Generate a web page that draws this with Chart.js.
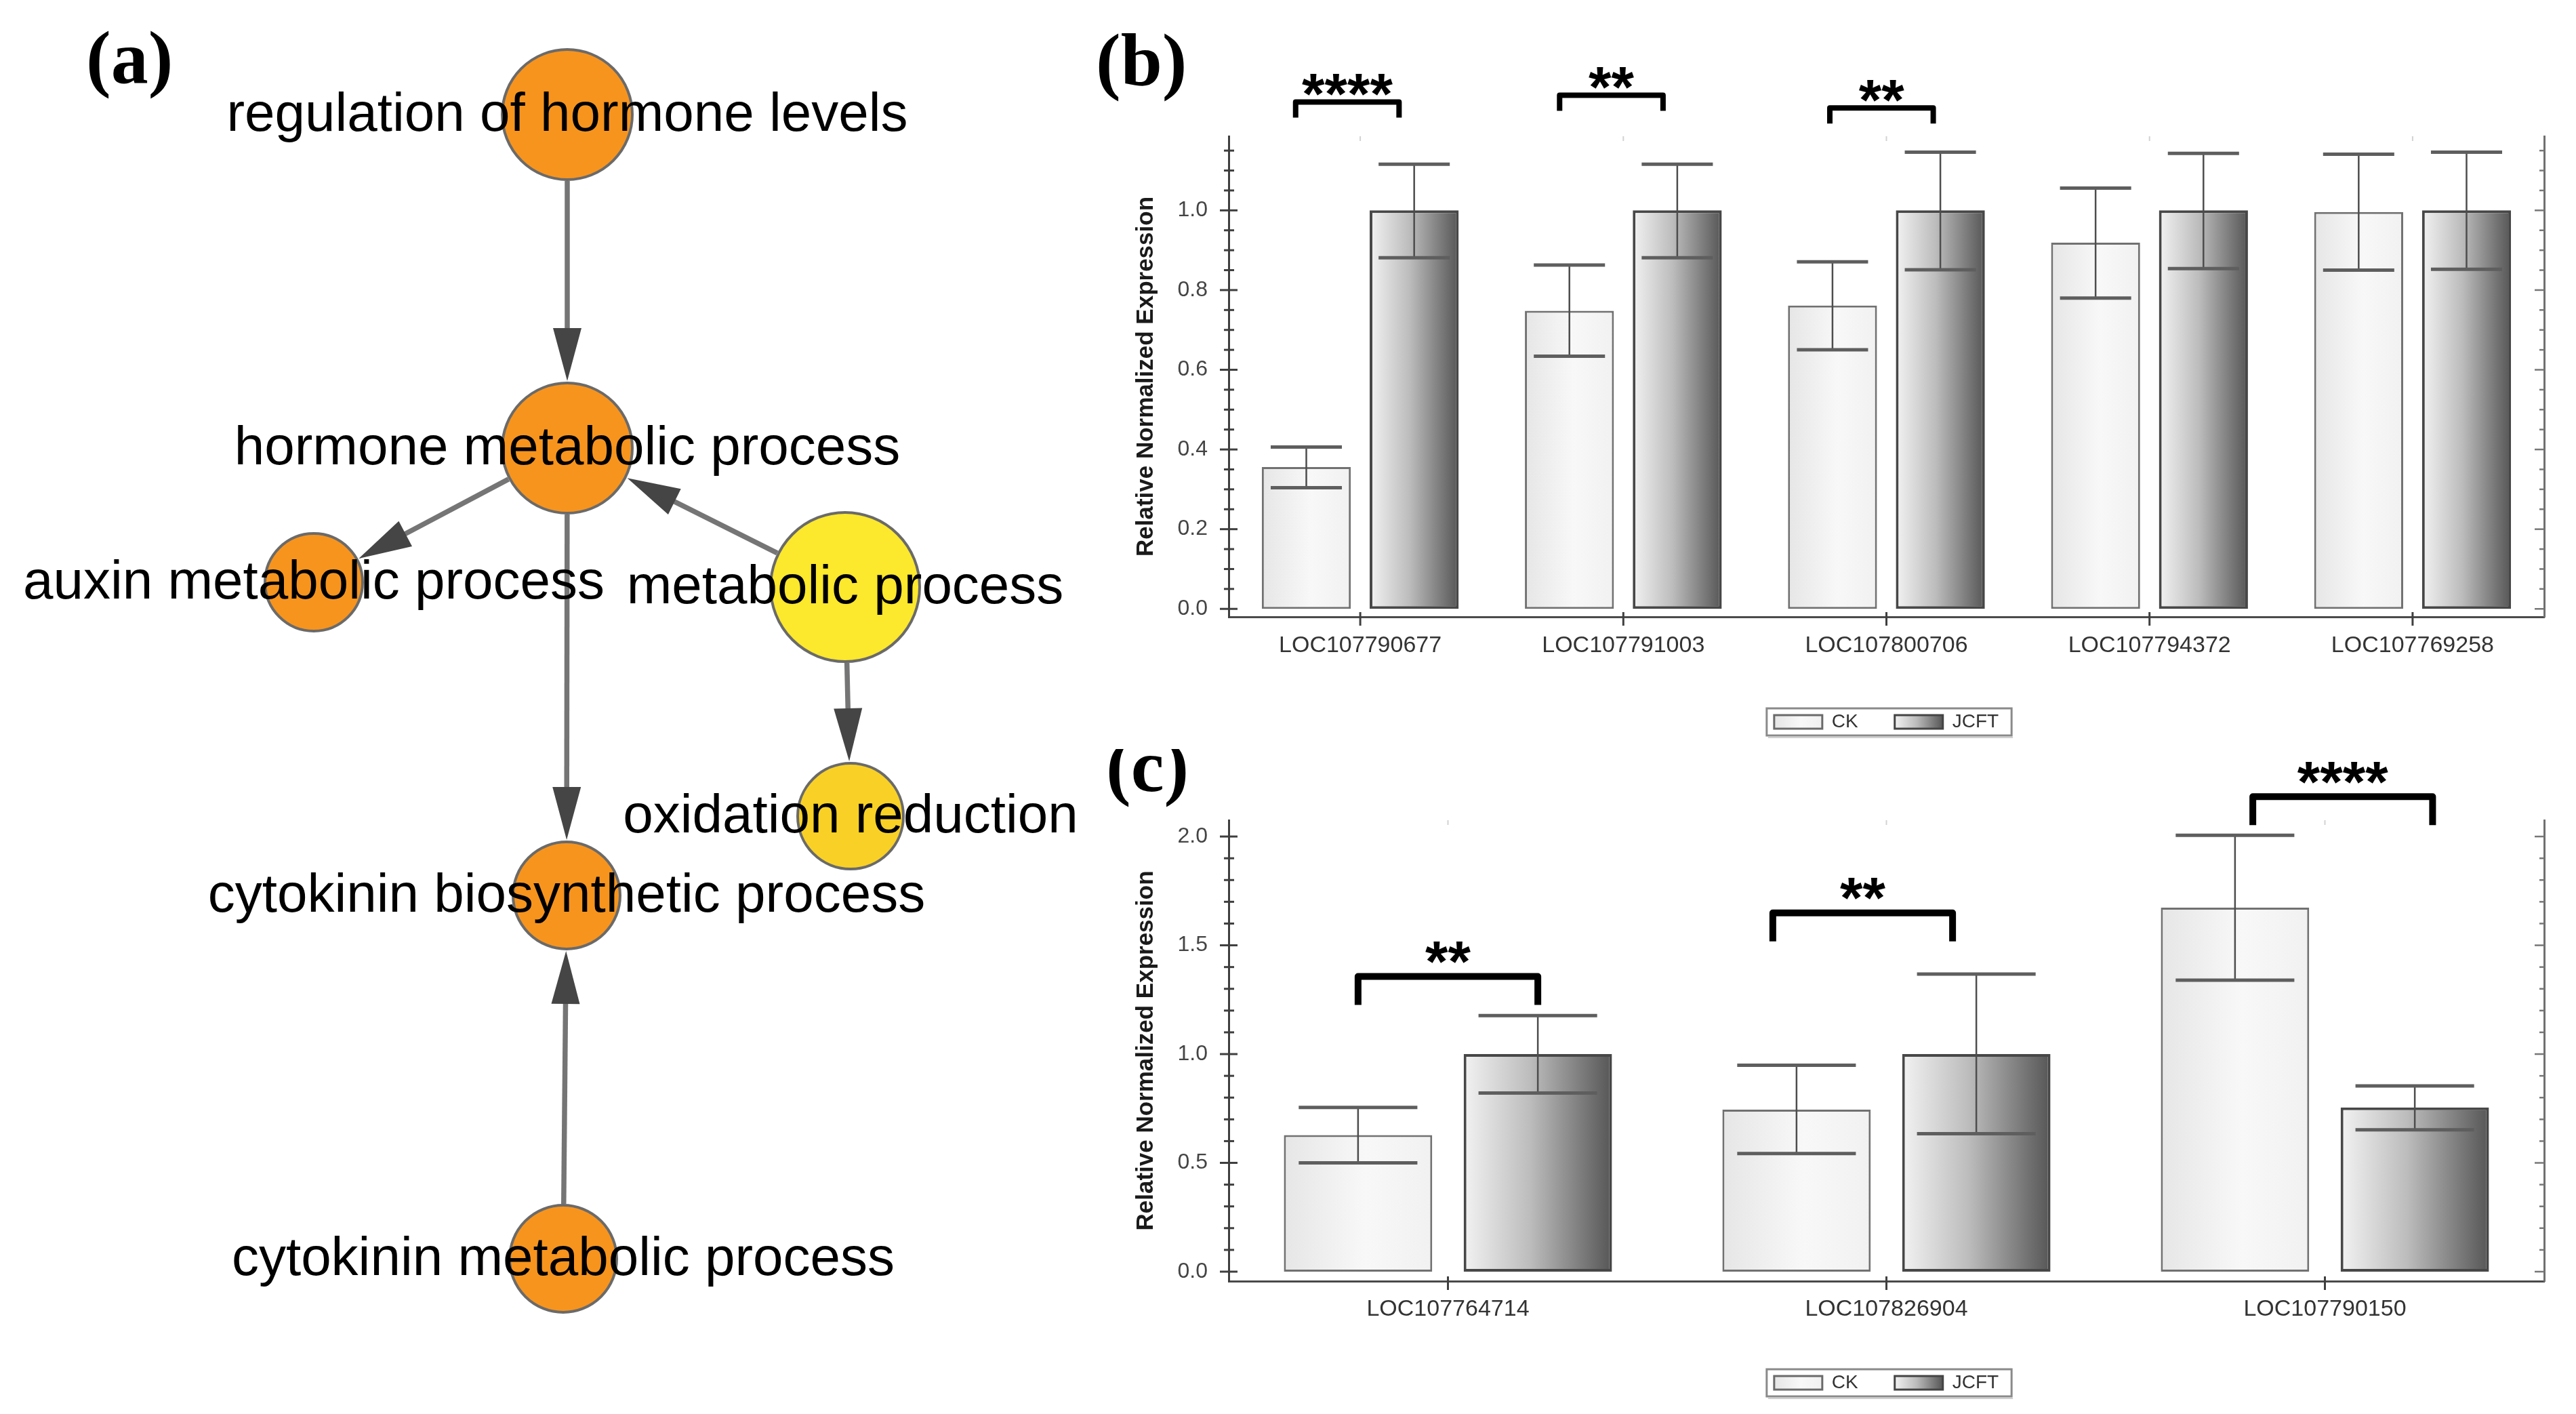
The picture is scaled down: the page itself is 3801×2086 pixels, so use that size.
<!DOCTYPE html>
<html>
<head>
<meta charset="utf-8">
<script src="https://cdn.jsdelivr.net/npm/chart.js@4.4.1/dist/chart.umd.min.js"></script>
<style>
  html, body { margin: 0; padding: 0; background: #ffffff; }
  body { position: relative; width: 3801px; height: 2086px; overflow: hidden; }
  canvas { position: absolute; display: block; }
  #netCanvas { left: 0px; top: 0px; }
  #chartB { left: 1605px; top: 0px; }
  #chartC { left: 1605px; top: 1105px; }
</style>
</head>
<body>
<canvas id="netCanvas" width="1605" height="2086"></canvas>
<canvas id="chartB" width="2196" height="1105"></canvas>
<canvas id="chartC" width="2196" height="981"></canvas>
<script>
// ================= DATA =================
// Panel (a): GO-term network (layout units, nodes and directed edges)
const goTerms = ['regulation of hormone levels', 'hormone metabolic process', 'auxin metabolic process',
                 'metabolic process', 'oxidation reduction', 'cytokinin biosynthetic process',
                 'cytokinin metabolic process'];
const goLayoutX = [83.7, 83.7, 46.3, 124.7, 125.5, 83.6, 83.1];
const goLayoutY = [16.9, 66.1, 85.9, 86.6, 120.4, 132.1, 185.7];
const goClass   = ['high', 'high', 'high', 'low', 'mid', 'high', 'high'];
const edgeFrom  = [0, 1, 3, 1, 3, 6];
const edgeTo    = [1, 2, 1, 5, 4, 5];

// Panel (b)
const genesB     = ['LOC107790677', 'LOC107791003', 'LOC107800706', 'LOC107794372', 'LOC107769258'];
const ckMeanB    = [0.356, 0.748, 0.761, 0.919, 0.996];
const ckLowB     = [0.304, 0.634, 0.650, 0.780, 0.850];
const ckHighB    = [0.406, 0.863, 0.871, 1.056, 1.141];
const jcftMeanB  = [1.0, 1.0, 1.0, 1.0, 1.0];
const jcftLowB   = [0.881, 0.881, 0.851, 0.854, 0.852];
const jcftHighB  = [1.116, 1.116, 1.146, 1.143, 1.146];
const sigGeneB   = [0, 1, 2];
const sigLevelB  = [1.272, 1.289, 1.257];
const sigMarkB   = ['****', '**', '**'];
const yTicksB    = [0.0, 0.2, 0.4, 0.6, 0.8, 1.0];

// Panel (c)
const genesC     = ['LOC107764714', 'LOC107826904', 'LOC107790150'];
const ckMeanC    = [0.628, 0.745, 1.673];
const ckLowC     = [0.500, 0.543, 1.340];
const ckHighC    = [0.755, 0.949, 2.006];
const jcftMeanC  = [1.0, 1.0, 0.755];
const jcftLowC   = [0.821, 0.634, 0.652];
const jcftHighC  = [1.177, 1.368, 0.854];
const sigGeneC   = [0, 1, 2];
const sigLevelC  = [1.357, 1.649, 2.183];
const sigMarkC   = ['**', '**', '****'];
const yTicksC    = [0.0, 0.5, 1.0, 1.5, 2.0];

const seriesNames = ['CK', 'JCFT'];
const yTitle = 'Relative Normalized Expression';

// ================= STYLE =================
const SANS = "'Liberation Sans', Arial, Helvetica, sans-serif";
const SERIF = "'Liberation Serif', 'Times New Roman', serif";
const NODE_R = [96, 96, 72, 110, 78, 79, 79];
const NODE_COL = { high: '#F7941E', mid: '#F9D126', low: '#FCE82C' };
const ARROW_L = 78, ARROW_W = 42;

// ================= PANEL (a) =================
const netPlugin = {
  id: 'netPlugin',
  beforeDatasetsDraw(chart) {
    const ctx = chart.ctx;
    const pts = chart.getDatasetMeta(0).data;
    ctx.save();
    edgeFrom.forEach((f, k) => {
      const t = edgeTo[k];
      const a = pts[f], b = pts[t];
      const dx = b.x - a.x, dy = b.y - a.y;
      const L = Math.hypot(dx, dy), ux = dx / L, uy = dy / L;
      const ra = NODE_R[f] + 2, rb = NODE_R[t] + 3;
      const sx = a.x + ux * ra, sy = a.y + uy * ra;
      const tx = b.x - ux * rb, ty = b.y - uy * rb;
      const bx = tx - ux * ARROW_L, by = ty - uy * ARROW_L;
      ctx.strokeStyle = '#757575';
      ctx.lineWidth = 7.5;
      ctx.beginPath(); ctx.moveTo(sx, sy); ctx.lineTo(bx + ux * 6, by + uy * 6); ctx.stroke();
      ctx.fillStyle = '#454545';
      ctx.beginPath();
      ctx.moveTo(tx, ty);
      ctx.lineTo(bx - uy * ARROW_W / 2, by + ux * ARROW_W / 2);
      ctx.lineTo(bx + uy * ARROW_W / 2, by - ux * ARROW_W / 2);
      ctx.closePath(); ctx.fill();
    });
    ctx.restore();
  },
  afterDatasetsDraw(chart) {
    const ctx = chart.ctx;
    const pts = chart.getDatasetMeta(0).data;
    ctx.save();
    ctx.fillStyle = '#000';
    ctx.font = '80px ' + SANS;
    ctx.textAlign = 'center';
    ctx.textBaseline = 'middle';
    goTerms.forEach((t, i) => ctx.fillText(t, pts[i].x, pts[i].y + 2));
    ctx.font = 'bold 110px ' + SERIF;
    ctx.textAlign = 'left';
    ctx.textBaseline = 'alphabetic';
    ctx.fillText('(a)', 127, 122);
    ctx.restore();
  }
};

new Chart(document.getElementById('netCanvas'), {
  type: 'scatter',
  data: {
    datasets: [{
      data: goTerms.map((t, i) => ({ x: goLayoutX[i], y: goLayoutY[i] })),
      pointRadius: NODE_R,
      pointHoverRadius: NODE_R,
      pointBackgroundColor: goClass.map(c => NODE_COL[c]),
      pointBorderColor: '#6a6a6a',
      pointBorderWidth: 4,
      clip: false
    }]
  },
  options: {
    responsive: false, devicePixelRatio: 1, animation: false, events: [],
    layout: { padding: 0, autoPadding: false },
    plugins: { legend: { display: false }, tooltip: { enabled: false } },
    scales: {
      x: { type: 'linear', display: false, min: 0, max: 160.5 },
      y: { type: 'linear', display: false, min: 0, max: 208.6, reverse: true }
    }
  },
  plugins: [netPlugin]
});

// ================= PANELS (b), (c) =================
function makeGrad(ctx, x0, x1, stops) {
  const g = ctx.createLinearGradient(x0, 0, x1, 0);
  stops.forEach(s => g.addColorStop(s[0], s[1]));
  return g;
}
const CK_STOPS = [[0, '#e6e6e6'], [0.55, '#f8f8f8'], [1, '#f1f1f1']];
const JC_STOPS = [[0, '#f2f2f2'], [0.45, '#bcbcbc'], [1, '#565656']];

function barPanel(id, P) {
  const el = document.getElementById(id);
  const W = el.width, H = el.height;
  const LBL_PAD = 54, LBL_FS = 28, BOX_W = 71, BOX_H = 20;
  const legendH = LBL_FS + LBL_PAD + 10;
  const AREA_L = 208, AREA_R = 2149;

  const plugin = {
    id: 'panel_' + id,
    beforeDraw(chart) {
      const lg = chart.legend;
      if (!lg) return;
      const ca = chart.chartArea;
      const cx = (ca.left + ca.right) / 2;
      const w = lg.right - lg.left, h = lg.bottom - lg.top;
      lg.left = cx - w / 2; lg.right = cx + w / 2;
      lg.top = P.legendY - LBL_FS / 2 - LBL_PAD; lg.bottom = lg.top + h;
      const ctx = chart.ctx;
      ctx.save();
      ctx.font = LBL_FS + 'px ' + SANS;
      const widths = lg.legendItems.map(it => BOX_W + LBL_FS / 2 + ctx.measureText(it.text).width);
      ctx.restore();
      const lineW = widths.reduce((s, v) => s + v + LBL_PAD, 0);
      let x = (lg.left + LBL_PAD + lg.right - lineW) / 2;
      const spans = [];
      lg.legendItems.forEach((it, i) => {
        it.fillStyle = makeGrad(ctx, x, x + BOX_W, i === 0 ? CK_STOPS : JC_STOPS);
        spans.push({ x: x, w: widths[i] });
        x += widths[i] + LBL_PAD;
      });
      chart.$legendSpans = spans;
    },
    beforeDatasetsDraw(chart) {
      const ctx = chart.ctx;
      chart.data.datasets.forEach((ds, di) => {
        const meta = chart.getDatasetMeta(di);
        meta.data.forEach(bar => {
          const g = makeGrad(ctx, bar.x - bar.width / 2, bar.x + bar.width / 2, di === 0 ? CK_STOPS : JC_STOPS);
          bar.options = Object.assign({}, bar.options, { backgroundColor: g });
        });
      });
    },
    afterDatasetsDraw(chart) {
      const ctx = chart.ctx;
      const yS = chart.scales.y;
      const lows = [P.ckLow, P.jcLow], highs = [P.ckHigh, P.jcHigh];
      ctx.save();
      chart.data.datasets.forEach((ds, di) => {
        const meta = chart.getDatasetMeta(di);
        meta.data.forEach((bar, i) => {
          const yl = yS.getPixelForValue(lows[di][i]);
          const yh = yS.getPixelForValue(highs[di][i]);
          const hw = bar.width * 0.4;
          ctx.strokeStyle = '#4d4d4d'; ctx.lineWidth = 2.5;
          ctx.beginPath(); ctx.moveTo(bar.x, yl); ctx.lineTo(bar.x, yh); ctx.stroke();
          ctx.strokeStyle = '#5e5e5e'; ctx.lineWidth = 5;
          ctx.beginPath();
          ctx.moveTo(bar.x - hw, yh); ctx.lineTo(bar.x + hw, yh);
          ctx.moveTo(bar.x - hw, yl); ctx.lineTo(bar.x + hw, yl);
          ctx.stroke();
        });
      });
      // significance brackets
      const m0 = chart.getDatasetMeta(0), m1 = chart.getDatasetMeta(1);
      P.sigGene.forEach((g, k) => {
        const bw = m0.data[g].width;
        const sh = (P.brShift[k] || 0) * bw;
        const x1 = m0.data[g].x + sh, x2 = m1.data[g].x + sh - P.brShrink * bw;
        const yb = yS.getPixelForValue(P.sigLevel[k]);
        ctx.strokeStyle = '#000'; ctx.lineWidth = P.brW; ctx.lineJoin = 'round'; ctx.lineCap = 'butt';
        ctx.beginPath();
        ctx.moveTo(x1, yb + P.brLeg); ctx.lineTo(x1, yb); ctx.lineTo(x2, yb); ctx.lineTo(x2, yb + P.brLeg);
        ctx.stroke();
        ctx.fillStyle = '#000';
        ctx.font = 'bold 86px ' + SANS;
        ctx.textAlign = 'center'; ctx.textBaseline = 'alphabetic';
        ctx.fillText(P.sigMark[k], (x1 + x2) / 2, yb - P.starGap + 0.55 * 86);
      });
      ctx.restore();
    },
    afterDraw(chart) {
      const ctx = chart.ctx;
      const ca = chart.chartArea;
      const yS = chart.scales.y, xS = chart.scales.x;
      ctx.save();
      // left axis major / minor ticks, right axis ticks
      const top = P.yMax;
      const nMinor = Math.round(top / P.minor);
      for (let k = 0; k <= nMinor; k++) {
        const v = k * P.minor;
        if (v > top + 1e-9) break;
        const y = yS.getPixelForValue(v);
        const major = P.yMajor.some(m => Math.abs(m - v) < 1e-6);
        ctx.strokeStyle = '#3f3f3f'; ctx.lineWidth = 3;
        ctx.beginPath();
        if (major) { ctx.moveTo(ca.left - 13, y); ctx.lineTo(ca.left + 13, y); }
        else { ctx.moveTo(ca.left - 7, y); ctx.lineTo(ca.left + 8, y); }
        ctx.stroke();
        ctx.strokeStyle = '#777'; ctx.lineWidth = 2.5;
        ctx.beginPath();
        ctx.moveTo(ca.right - (major ? 14 : 7), y); ctx.lineTo(ca.right, y);
        ctx.stroke();
      }
      // category ticks on x axis + faint marks at top
      chart.data.labels.forEach((l, i) => {
        const x = xS.getPixelForValue(i);
        ctx.strokeStyle = '#3f3f3f'; ctx.lineWidth = 3;
        ctx.beginPath(); ctx.moveTo(x, ca.bottom - 7); ctx.lineTo(x, ca.bottom + 13); ctx.stroke();
        ctx.strokeStyle = '#d2d2d2'; ctx.lineWidth = 2;
        ctx.beginPath(); ctx.moveTo(x, ca.top); ctx.lineTo(x, ca.top + 7); ctx.stroke();
      });
      // legend frame
      const sp = chart.$legendSpans;
      if (sp && sp.length) {
        const x0 = sp[0].x - 11, x1 = sp[sp.length - 1].x + sp[sp.length - 1].w + 19;
        ctx.strokeStyle = '#8a8a8a'; ctx.lineWidth = 3;
        ctx.strokeRect(x0, P.legendY - 20, x1 - x0, 40);
        ctx.strokeStyle = '#d0d0d0'; ctx.lineWidth = 2;
        ctx.beginPath(); ctx.moveTo(x0 + 2, P.legendY + 23); ctx.lineTo(x1 + 2, P.legendY + 23); ctx.stroke();
      }
      // panel letter
      ctx.fillStyle = '#000';
      ctx.font = 'bold 110px ' + SERIF;
      ctx.textAlign = 'left'; ctx.textBaseline = 'alphabetic';
      ctx.fillText(P.letter, P.letterX, P.letterY);
      ctx.restore();
    }
  };

  const tickFont = { family: SANS, size: 32 };
  return new Chart(el, {
    type: 'bar',
    data: {
      labels: P.genes,
      datasets: [
        { label: seriesNames[0], data: P.ck, backgroundColor: '#f3f3f3', borderColor: '#717171',
          borderWidth: 3, borderSkipped: false, categoryPercentage: 0.82, barPercentage: 0.825 },
        { label: seriesNames[1], data: P.jc, backgroundColor: '#a0a0a0', borderColor: '#474747',
          borderWidth: 4, borderSkipped: false, categoryPercentage: 0.82, barPercentage: 0.825 }
      ]
    },
    options: {
      responsive: false, devicePixelRatio: 1, animation: false, events: [],
      layout: { padding: { top: P.areaTop, bottom: 0, left: 0, right: 0 } },
      plugins: {
        tooltip: { enabled: false },
        legend: {
          display: true, position: 'bottom',
          labels: {
            boxWidth: BOX_W, boxHeight: BOX_H, padding: LBL_PAD, color: '#333',
            font: { family: SANS, size: LBL_FS },
            generateLabels: (chart) => chart.data.datasets.map((ds, i) => ({
              text: ds.label, fillStyle: i === 0 ? '#f3f3f3' : '#a0a0a0',
              strokeStyle: i === 0 ? '#6a6a6a' : '#444', lineWidth: 3,
              hidden: false, datasetIndex: i, fontColor: '#333'
            }))
          }
        }
      },
      scales: {
        x: {
          type: 'category', offset: true,
          grid: { display: false, drawTicks: false },
          border: { display: true, color: '#4a4a4a', width: 3 },
          ticks: { font: { family: SANS, size: 34 }, color: '#333', padding: P.xPad, maxRotation: 0 },
          afterFit(s) { s.height = H - P.areaBottom - legendH; }
        },
        y: {
          type: 'linear', position: 'left', min: P.yMin, max: P.yMax,
          grid: { display: false, drawTicks: false },
          border: { display: true, color: '#3f3f3f', width: 3 },
          ticks: { font: tickFont, color: '#444', padding: 31, callback: v => Number(v).toFixed(1) },
          title: { display: true, text: yTitle, color: '#1a1a1a',
                   font: { family: SANS, size: 35, weight: 'bold' }, padding: { top: 65, bottom: 0 } },
          afterBuildTicks(s) { s.ticks = P.yMajor.map(v => ({ value: v })); },
          afterFit(s) { s.width = AREA_L; }
        },
        y2: {
          type: 'linear', position: 'right', min: P.yMin, max: P.yMax,
          grid: { display: false, drawTicks: false },
          border: { display: true, color: '#707070', width: 3 },
          ticks: { display: false },
          afterFit(s) { s.width = W - AREA_R; }
        }
      }
    },
    plugins: [plugin]
  });
}

barPanel('chartB', {
  genes: genesB, ck: ckMeanB, ckLow: ckLowB, ckHigh: ckHighB,
  jc: jcftMeanB, jcLow: jcftLowB, jcHigh: jcftHighB,
  sigGene: sigGeneB, sigLevel: sigLevelB, sigMark: sigMarkB,
  yMajor: yTicksB, minor: 0.05, yMin: -0.02, yMax: 1.186,
  areaTop: 201, areaBottom: 910, xPad: 22, legendY: 1065,
  brW: 8, brLeg: 23, starGap: 30, brShift: [-0.12, -0.11, -0.03], brShrink: 0.05,
  letter: '(b)', letterX: 12, letterY: 126
});

barPanel('chartC', {
  genes: genesC, ck: ckMeanC, ckLow: ckLowC, ckHigh: ckHighC,
  jc: jcftMeanC, jcLow: jcftLowC, jcHigh: jcftHighC,
  sigGene: sigGeneC, sigLevel: sigLevelC, sigMark: sigMarkC,
  yMajor: yTicksC, minor: 0.1, yMin: -0.0436, yMax: 2.075,
  areaTop: 105, areaBottom: 785, xPad: 21, legendY: 935,
  brW: 10, brLeg: 42, starGap: 40, brShift: [0, -0.16, 0.12], brShrink: 0,
  letter: '(c)', letterX: 27, letterY: 62
});
</script>
</body>
</html>
